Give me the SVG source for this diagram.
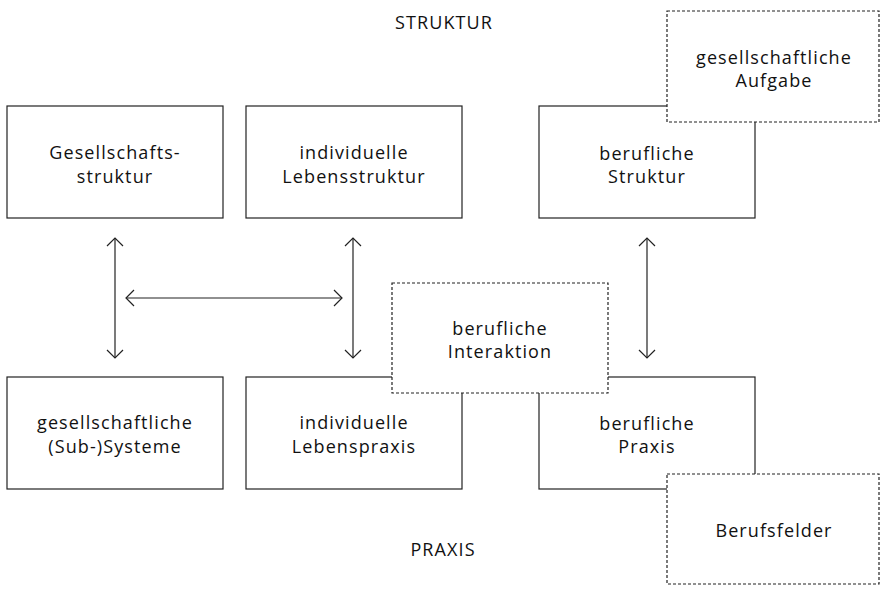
<svg xmlns="http://www.w3.org/2000/svg" width="880" height="589" viewBox="0 0 880 589">
<defs>
<style>
.box{fill:#fff;stroke:#222;stroke-width:1.2}
.dash{fill:#fff;stroke:#222;stroke-width:1.2;stroke-dasharray:3 2}
text{font-family:"Open Sans","Noto Sans",sans-serif;font-size:18px;letter-spacing:1.1px;fill:#111;text-anchor:middle}
.conn{stroke:#222;stroke-width:1.2;fill:none}
.head{stroke:#222;stroke-width:1.2;fill:none}
</style>
<marker id="ah" viewBox="0 0 10 20" refX="9" refY="10" markerWidth="10" markerHeight="20" markerUnits="userSpaceOnUse" orient="auto-start-reverse">
<path d="M1,2 L9,10 L1,18" class="head"/>
</marker>
</defs>
<rect width="880" height="589" fill="#fff"/>
<text x="444" y="29">STRUKTUR</text>
<text x="443" y="556">PRAXIS</text>
<g id="gesellschaftsstruktur"><rect class="box" x="7" y="106" width="216" height="112"/><text x="115" y="159">Gesellschafts-</text><text x="115" y="183">struktur</text></g>
<g id="lebensstruktur"><rect class="box" x="246" y="106" width="216" height="112"/><text x="354" y="159">individuelle</text><text x="354" y="183">Lebensstruktur</text></g>
<g id="berufliche-struktur"><rect class="box" x="539" y="106" width="216" height="112"/><text x="647" y="160">berufliche</text><text x="647" y="183">Struktur</text></g>
<g id="subsysteme"><rect class="box" x="7" y="377" width="216" height="112"/><text x="115" y="429">gesellschaftliche</text><text x="115" y="453">(Sub-)Systeme</text></g>
<g id="lebenspraxis"><rect class="box" x="246" y="377" width="216" height="112"/><text x="354" y="429">individuelle</text><text x="354" y="453">Lebenspraxis</text></g>
<g id="berufliche-praxis"><rect class="box" x="539" y="377" width="216" height="112"/><text x="647" y="430">berufliche</text><text x="647" y="453">Praxis</text></g>
<g id="aufgabe"><rect class="dash" x="667" y="11" width="212" height="111"/><text x="774" y="64">gesellschaftliche</text><text x="774" y="87">Aufgabe</text></g>
<g id="interaktion"><rect class="dash" x="392" y="283" width="216" height="110"/><text x="500" y="335">berufliche</text><text x="500" y="358">Interaktion</text></g>
<g id="berufsfelder"><rect class="dash" x="667" y="474" width="212" height="110"/><text x="774" y="537">Berufsfelder</text></g>
<g id="connectors">
<line class="conn" x1="115" y1="238" x2="115" y2="358" marker-start="url(#ah)" marker-end="url(#ah)"/>
<line class="conn" x1="353" y1="238" x2="353" y2="358" marker-start="url(#ah)" marker-end="url(#ah)"/>
<line class="conn" x1="647" y1="238" x2="647" y2="358" marker-start="url(#ah)" marker-end="url(#ah)"/>
<line class="conn" x1="126" y1="298" x2="342" y2="298" marker-start="url(#ah)" marker-end="url(#ah)"/>
</g>
</svg>
